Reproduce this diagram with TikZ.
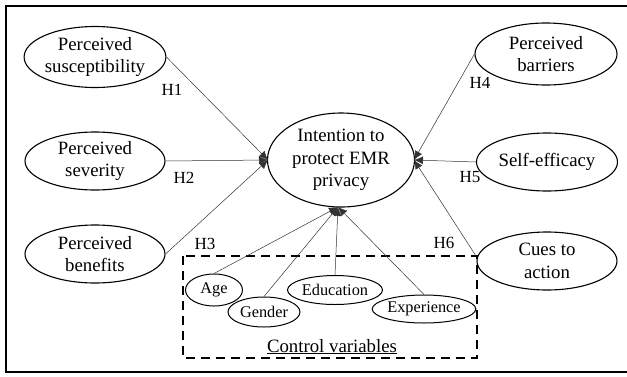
\documentclass[tikz,border=0pt]{standalone}
\usepackage{fontspec}
\setmainfont{Liberation Serif}
\usetikzlibrary{shapes.geometric,arrows.meta}
\begin{document}
\begin{tikzpicture}[x=1pt,y=-1pt,
  bigell/.style={ellipse,draw,line width=1.1pt,inner sep=0pt,align=center,
    font=\fontsize{18.8}{22.5}\selectfont},
  smallell/.style={ellipse,draw,line width=1pt,inner sep=0pt,align=center,
    font=\fontsize{16.3}{18}\selectfont},
  hlab/.style={font=\fontsize{17}{18}\selectfont,inner sep=0pt},
  conn/.style={line width=0.5pt,draw=black!80,-{Latex[length=9pt,width=8pt]}}]
\useasboundingbox (0,0) rectangle (627,376);
\draw[line width=2pt] (640,6) -- (6,6) -- (6,372) -- (640,372);
% main nodes
\node[bigell,minimum width=140pt,minimum height=61pt] (sus) at (95,57) {Perceived\\susceptibility};
\node[bigell,minimum width=140pt,minimum height=58pt] (sev) at (95,161) {Perceived\\severity};
\node[bigell,minimum width=140pt,minimum height=58pt] (ben) at (95,254) {Perceived\\benefits};
\node[bigell,minimum width=147pt,minimum height=94pt] (int) at (341,160) {Intention to\\protect EMR\\privacy};
\node[bigell,minimum width=142pt,minimum height=62pt] (bar) at (546,54) {Perceived\\barriers};
\node[bigell,minimum width=141pt,minimum height=58pt] (self) at (547,162) {Self-efficacy};
\node[bigell,minimum width=140pt,minimum height=58pt] (cue) at (547,261) {Cues to\\action};
% control box
\draw[line width=1.4pt,dash pattern=on 9pt off 6pt] (183,256) rectangle (477,358);
\coordinate (boxne) at (476,256);
\node[smallell,minimum width=57pt,minimum height=32pt] (age) at (214,290) {Age};
\node[smallell,minimum width=72pt,minimum height=30pt] (gen) at (264,312) {Gender};
\node[smallell,minimum width=95pt,minimum height=29pt] (edu) at (335,290) {Education};
\node[smallell,minimum width=102pt,minimum height=28pt] (exp) at (424,309) {Experience};
\node[font=\fontsize{18.8}{22}\selectfont,inner sep=0pt,anchor=base] (cv) at (332,352) {\underline{Control variables}};
% convergence points
\coordinate (L) at (268,160);
\coordinate (R) at (414,160);
\coordinate (B) at (338,207);
\draw[conn] (sus.east) -- (L);
\draw[conn] (sev.east) -- (L);
\draw[conn] (ben.east) -- (L);
\draw[conn] (bar.west) -- (R);
\draw[conn] (self.west) -- (R);
\draw[conn] (boxne) -- (R);
\draw[conn] (age.north) -- (B);
\draw[conn] (gen.north) -- (B);
\draw[conn] (edu.north) -- (B);
\draw[conn] (exp.north) -- (B);
% labels
\node[hlab] (h1) at (172,90) {H1};
\node[hlab] (h2) at (184,178) {H2};
\node[hlab] (h3) at (205,244) {H3};
\node[hlab] (h4) at (480,83) {H4};
\node[hlab] (h5) at (470,177) {H5};
\node[hlab] (h6) at (444,243) {H6};
\end{tikzpicture}
\end{document}
